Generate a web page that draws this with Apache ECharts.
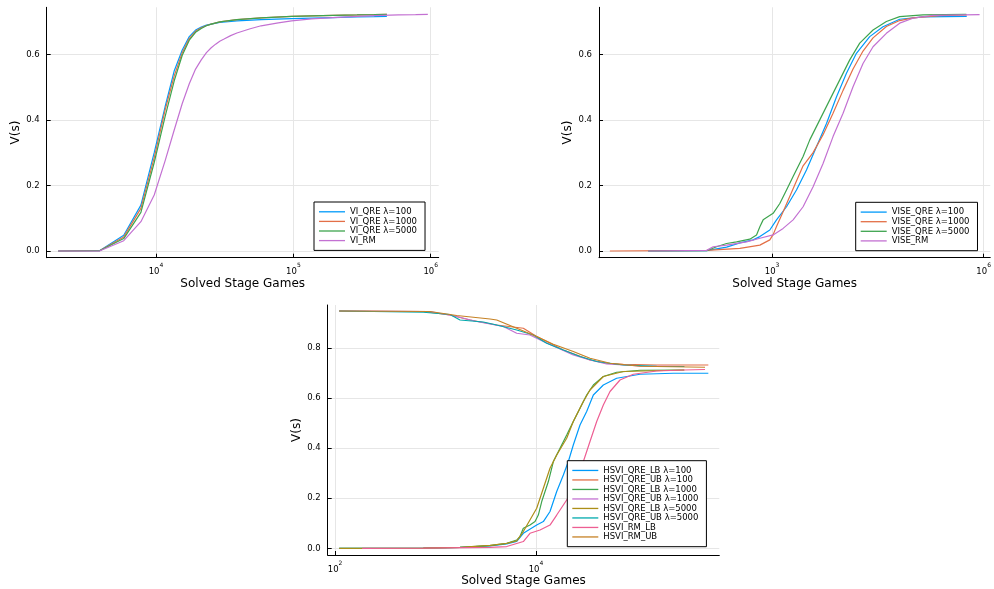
<!DOCTYPE html>
<html><head><meta charset="utf-8">
<script src="https://cdn.jsdelivr.net/npm/echarts@6/dist/echarts.min.js"></script>
<style>html,body{margin:0;padding:0;background:#fff}#c{width:994px;height:589px}</style>
</head><body><div id="c"></div>
<script>
// ---------------- Data ----------------
// Top-left: VI (x = solved stage games, y = V(s))
const VI_QRE_100 = [[1940,0],[3880,0.001],[5820,0.048],[7760,0.14],[9700,0.30],[11640,0.44],[13580,0.55],[15520,0.613],[17460,0.654],[19400,0.674],[21340,0.683],[23280,0.689],[25220,0.692],[29100,0.697],[38800,0.702],[58200,0.706],[97000,0.709],[194000,0.712],[291000,0.714],[388000,0.715],[479180,0.716]];
const VI_QRE_1000 = [[1940,0],[3880,0.001],[5820,0.043],[7760,0.13],[9700,0.285],[11640,0.43],[13580,0.535],[15520,0.605],[17460,0.648],[19400,0.67],[21340,0.681],[23280,0.688],[25220,0.692],[29100,0.699],[38800,0.706],[58200,0.711],[97000,0.716],[194000,0.719],[291000,0.72],[388000,0.721],[479180,0.722]];
const VI_QRE_5000 = [[1940,0],[3880,0.001],[5820,0.038],[7760,0.118],[9700,0.27],[11640,0.41],[13580,0.52],[15520,0.597],[17460,0.643],[19400,0.667],[21340,0.679],[23280,0.687],[25220,0.692],[29100,0.699],[38800,0.706],[58200,0.711],[97000,0.716],[194000,0.719],[291000,0.72],[388000,0.721],[479180,0.722]];
const VI_RM = [[1940,0],[3880,0],[5820,0.0315],[7760,0.0895],[9700,0.171],[11640,0.275],[13580,0.37],[15520,0.45],[17460,0.51],[19400,0.555],[21340,0.583],[23280,0.605],[25220,0.62],[27160,0.631],[29100,0.64],[31040,0.646],[34920,0.657],[38800,0.665],[48500,0.678],[58200,0.687],[77600,0.696],[97000,0.702],[135800,0.708],[194000,0.712],[291000,0.716],[388000,0.718],[582000,0.720],[776000,0.721],[952540,0.722]];

// Top-right: VISE
const VISE_QRE_100 = [[17.5,0],[118,0.001],[226,0.012],[349,0.025],[538,0.034],[670,0.044],[927,0.064],[1154,0.095],[1600,0.135],[2215,0.186],[3070,0.247],[4254,0.318],[5900,0.389],[8166,0.47],[11320,0.542],[15680,0.603],[24210,0.654],[37330,0.684],[64400,0.707],[137700,0.714],[575000,0.716]];
const VISE_QRE_1000 = [[5,0],[118,0.002],[349,0.008],[670,0.018],[927,0.034],[1033,0.05],[1154,0.075],[1432,0.12],[1984,0.19],[2749,0.26],[3810,0.30],[5278,0.355],[7310,0.42],[10140,0.49],[14040,0.555],[19450,0.61],[26980,0.65],[41690,0.685],[64400,0.703],[99300,0.711],[237300,0.718],[575000,0.72]];
const VISE_QRE_5000 = [[17.5,0],[118,0.001],[163,0.013],[226,0.023],[313,0.028],[483,0.036],[601,0.049],[670,0.074],[746,0.095],[1033,0.115],[1285,0.145],[1600,0.186],[1984,0.227],[2749,0.288],[3420,0.339],[4740,0.40],[6565,0.461],[9100,0.522],[12610,0.583],[17470,0.634],[26980,0.674],[41690,0.70],[64400,0.715],[137700,0.72],[567000,0.722]];
const VISE_RM = [[17.5,0],[118,0.002],[146,0.013],[226,0.018],[434,0.028],[670,0.039],[1033,0.049],[1432,0.069],[1984,0.095],[2749,0.135],[3810,0.196],[5278,0.267],[7310,0.349],[10140,0.42],[14040,0.501],[19450,0.572],[26980,0.623],[41690,0.664],[64400,0.695],[99300,0.71],[190600,0.719],[875000,0.721]];

// Bottom: HSVI
const HSVI_QRE_LB_100 = [[110,0],[757,0.001],[1753,0.004],[3486,0.01],[5110,0.018],[6427,0.028],[7480,0.06],[10160,0.093],[11830,0.107],[13780,0.147],[16070,0.227],[18710,0.293],[20980,0.347],[23500,0.413],[27400,0.493],[31930,0.547],[37200,0.613],[46770,0.653],[63500,0.68],[108400,0.696],[232600,0.70],[518600,0.70]];
const HSVI_QRE_UB_100 = [[110,0.949],[757,0.947],[1394,0.933],[2205,0.913],[4064,0.893],[7480,0.88],[10160,0.847],[13780,0.82],[18710,0.793],[25410,0.773],[34450,0.753],[50470,0.74],[73950,0.736],[158900,0.733],[518600,0.733]];
const HSVI_QRE_LB_1000 = [[110,0],[757,0.001],[1753,0.004],[3486,0.011],[5110,0.02],[6427,0.033],[6930,0.047],[7480,0.08],[8710,0.093],[9780,0.107],[10540,0.133],[11400,0.187],[12300,0.227],[13270,0.267],[14880,0.347],[17340,0.40],[20200,0.453],[23500,0.507],[27400,0.56],[31930,0.613],[37200,0.653],[46770,0.687],[63500,0.704],[108400,0.712],[299000,0.713]];
const HSVI_QRE_UB_1000 = [[110,0.949],[881,0.947],[1626,0.927],[2570,0.907],[4730,0.887],[6427,0.86],[8710,0.853],[11830,0.827],[16070,0.803],[23500,0.773],[34450,0.753],[50470,0.737],[108400,0.729],[299000,0.727]];
const HSVI_QRE_LB_5000 = [[110,0],[757,0.001],[1753,0.004],[3486,0.012],[5110,0.02],[6427,0.03],[7480,0.067],[10160,0.16],[11830,0.24],[13780,0.32],[16070,0.373],[20200,0.44],[23500,0.507],[29590,0.587],[34450,0.633],[46770,0.687],[73950,0.707],[299000,0.713]];
const HSVI_QRE_UB_5000 = [[110,0.949],[757,0.944],[1394,0.935],[1753,0.913],[2990,0.905],[4064,0.893],[6427,0.873],[9400,0.853],[12770,0.82],[18710,0.793],[27400,0.767],[40180,0.747],[73950,0.733],[158900,0.728],[299000,0.727]];
const HSVI_RM_LB = [[186,0],[757,0.001],[3486,0.004],[5110,0.007],[7480,0.027],[8710,0.06],[10960,0.073],[13780,0.093],[16070,0.133],[18710,0.173],[21790,0.213],[25410,0.267],[29590,0.347],[34450,0.427],[40180,0.507],[46770,0.573],[54500,0.627],[68500,0.673],[93000,0.696],[158900,0.709],[299000,0.713],[480800,0.715]];
const HSVI_RM_UB = [[110,0.949],[881,0.947],[1626,0.931],[3486,0.917],[4064,0.913],[6427,0.88],[10160,0.847],[14870,0.816],[23500,0.787],[34450,0.76],[54500,0.74],[108400,0.728],[480800,0.724]];

const NAMES_VI = ['VI_QRE λ=100','VI_QRE λ=1000','VI_QRE λ=5000','VI_RM'];
const NAMES_VISE = ['VISE_QRE λ=100','VISE_QRE λ=1000','VISE_QRE λ=5000','VISE_RM'];
const NAMES_HSVI = ['HSVI_QRE_LB λ=100','HSVI_QRE_UB λ=100','HSVI_QRE_LB λ=1000','HSVI_QRE_UB λ=1000','HSVI_QRE_LB λ=5000','HSVI_QRE_UB λ=5000','HSVI_RM_LB','HSVI_RM_UB'];
const X_TITLE = 'Solved Stage Games';
const Y_TITLE = 'V(s)';

// ---------------- Styling ----------------
const FONT = 'DejaVu Sans';
const COLORS = ['#009AFA','#E36F47','#3EA44E','#C371D2','#AC8E18','#00A9AD','#ED5E93','#C68225'];

function powLabel(v) {
  const e = Math.log10(v);
  const r = Math.round(e);
  if (Math.abs(e - r) > 0.01) return '';
  return '{b|10}{s|' + r + '}';
}
function decLabel(v) {
  const r = Math.round(v * 5);
  if (Math.abs(v * 5 - r) > 1e-6) return '';
  return (r / 5).toFixed(1);
}
function xAxisCfg(gi, base, min, max) {
  return {
    type: 'log', logBase: base, gridIndex: gi, min: min, max: max,
    name: X_TITLE, nameLocation: 'middle', nameGap: 19,
    nameTextStyle: {fontFamily: FONT, fontSize: 12, color: '#000', verticalAlign: 'top'},
    axisLine: {onZero: false, lineStyle: {color: '#000', width: 1}},
    axisTick: {inside: true, length: 4, lineStyle: {color: '#000'}},
    minorTick: {show: false},
    splitLine: {show: true, showMinLine: false, showMaxLine: false, lineStyle: {color: '#e6e6e6', width: 1}},
    axisLabel: {
      formatter: powLabel, margin: 5, showMinLabel: false, showMaxLabel: false,
      rich: {
        b: {fontFamily: FONT, fontSize: 8.5, color: '#000', lineHeight: 14, verticalAlign: 'bottom'},
        s: {fontFamily: FONT, fontSize: 6, color: '#000', lineHeight: 6, verticalAlign: 'top'}
      }
    }
  };
}
function yAxisCfg(gi, min, max, gap) {
  return {
    type: 'value', gridIndex: gi, min: min, max: max,
    name: Y_TITLE, nameLocation: 'middle', nameGap: gap,
    nameTextStyle: {fontFamily: FONT, fontSize: 12, color: '#000'},
    axisLine: {show: true, onZero: false, lineStyle: {color: '#000', width: 1}},
    axisTick: {show: true, inside: true, length: 4, lineStyle: {color: '#000'}},
    splitLine: {show: true, showMinLine: false, showMaxLine: false, lineStyle: {color: '#e6e6e6', width: 1}},
    axisLabel: {formatter: decLabel, fontFamily: FONT, fontSize: 8.5, color: '#000', margin: 7, showMinLabel: false, showMaxLabel: false}
  };
}
function legendCfg(names, left, top, ih) {
  return {
    data: names.map(function (n) { return {name: n, icon: 'rect'}; }),
    left: left, top: top, orient: 'vertical', align: 'left',
    padding: [5, 8, 5, 5], itemGap: 0, itemWidth: 26, itemHeight: 1.3,
    textStyle: {fontFamily: FONT, fontSize: 8.5, color: '#000', lineHeight: ih},
    backgroundColor: '#fff', borderColor: '#000', borderWidth: 1, borderRadius: 0,
    selectedMode: false, z: 10
  };
}
function ser(name, data, color, gi) {
  return {
    type: 'line', name: name, data: data, xAxisIndex: gi, yAxisIndex: gi,
    symbol: 'none', showSymbol: false, smooth: false, clip: true,
    lineStyle: {color: color, width: 1.2}, itemStyle: {color: color},
    emphasis: {disabled: true}, silent: true
  };
}

const chart = echarts.init(document.getElementById('c'), null, {renderer: 'canvas'});
chart.setOption({
  animation: false,
  backgroundColor: '#fff',
  grid: [
    {left: 46.7, top: 7.3, width: 392, height: 250.4},
    {left: 599, top: 7.3, width: 391.7, height: 250.4},
    {left: 327.7, top: 305, width: 391.6, height: 250}
  ],
  xAxis: [
    xAxisCfg(0, 10, Math.pow(10, 3.204), Math.pow(10, 6.058)),
    xAxisCfg(1, 1000, Math.pow(10, 0.545), Math.pow(10, 6.093)),
    xAxisCfg(2, 100, Math.pow(10, 1.927), Math.pow(10, 5.824))
  ],
  yAxis: [
    yAxisCfg(0, -0.0204, 0.7434, 25),
    yAxisCfg(1, -0.0204, 0.7434, 25),
    yAxisCfg(2, -0.0268, 0.973, 25)
  ],
  legend: [
    legendCfg(NAMES_VI, 314, 202, 9.6),
    legendCfg(NAMES_VISE, 855.7, 202.3, 9.6),
    legendCfg(NAMES_HSVI, 567.3, 460.7, 9.5)
  ],
  series: [
    ser(NAMES_VI[0], VI_QRE_100, COLORS[0], 0),
    ser(NAMES_VI[1], VI_QRE_1000, COLORS[1], 0),
    ser(NAMES_VI[2], VI_QRE_5000, COLORS[2], 0),
    ser(NAMES_VI[3], VI_RM, COLORS[3], 0),
    ser(NAMES_VISE[0], VISE_QRE_100, COLORS[0], 1),
    ser(NAMES_VISE[1], VISE_QRE_1000, COLORS[1], 1),
    ser(NAMES_VISE[2], VISE_QRE_5000, COLORS[2], 1),
    ser(NAMES_VISE[3], VISE_RM, COLORS[3], 1),
    ser(NAMES_HSVI[0], HSVI_QRE_LB_100, COLORS[0], 2),
    ser(NAMES_HSVI[1], HSVI_QRE_UB_100, COLORS[1], 2),
    ser(NAMES_HSVI[2], HSVI_QRE_LB_1000, COLORS[2], 2),
    ser(NAMES_HSVI[3], HSVI_QRE_UB_1000, COLORS[3], 2),
    ser(NAMES_HSVI[4], HSVI_QRE_LB_5000, COLORS[4], 2),
    ser(NAMES_HSVI[5], HSVI_QRE_UB_5000, COLORS[5], 2),
    ser(NAMES_HSVI[6], HSVI_RM_LB, COLORS[6], 2),
    ser(NAMES_HSVI[7], HSVI_RM_UB, COLORS[7], 2)
  ]
});
</script>
</body></html>
